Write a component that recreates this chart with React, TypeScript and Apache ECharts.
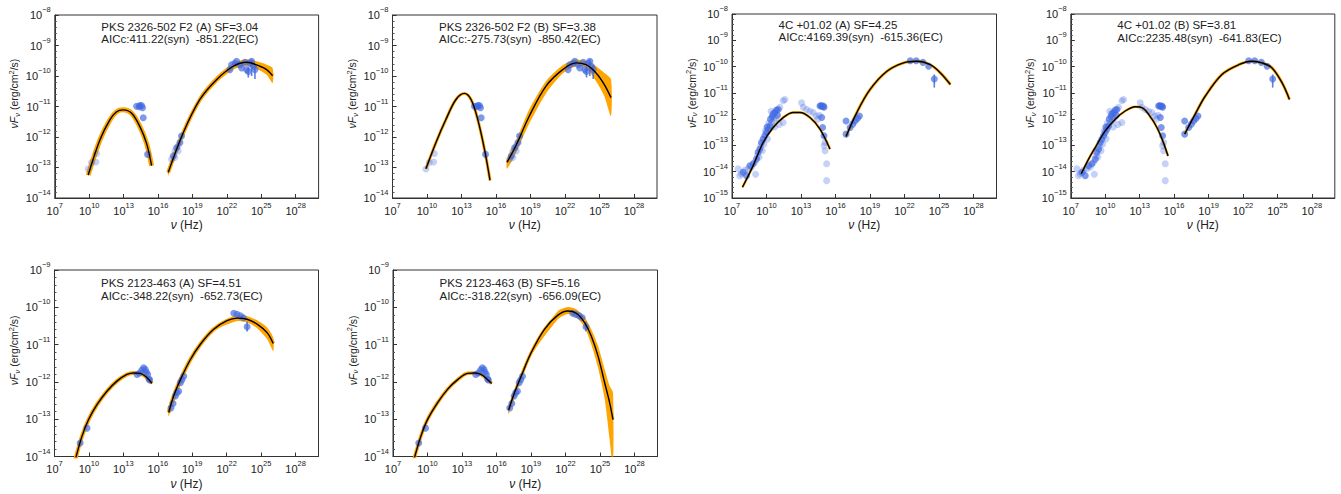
import React, { useEffect, useRef } from 'react';
import * as echarts from 'echarts';

// ---------- text ----------
const panelTitles = [
  'PKS 2326-502 F2 (A) SF=3.04',
  'PKS 2326-502 F2 (B) SF=3.38',
  '4C +01.02 (A) SF=4.25',
  '4C +01.02 (B) SF=3.81',
  'PKS 2123-463 (A) SF=4.51',
  'PKS 2123-463 (B) SF=5.16',
];
const panelAicc = [
  'AICc:411.22(syn)  -851.22(EC)',
  'AICc:-275.73(syn)  -850.42(EC)',
  'AICc:4169.39(syn)  -615.36(EC)',
  'AICc:2235.48(syn)  -641.83(EC)',
  'AICc:-348.22(syn)  -652.73(EC)',
  'AICc:-318.22(syn)  -656.09(EC)',
];
const yAxisTitle = '{i|\u03bdF}{s|\u03bd}{a| (erg/cm}{p|2}{a|/s)}';
const xAxisTitle = '{i|\u03bd} (Hz)';

// ---------- axes (log10 exponents) ----------
const xLogMin = 7;
const xLogMax = 30;
const xLogStep = 3;
const yLogRanges = [
  [-14, -8],
  [-14, -8],
  [-15, -8],
  [-15, -8],
  [-14, -9],
  [-14, -9],
];

// ---------- observed data: [log10 nu, log10 nuFnu] ----------
const pks2326Dark = [
  [14.13, -10.99], [14.36, -11.01], [14.42, -10.97], [14.56, -10.97], [14.65, -11.04], [14.71, -11.37], [15.09, -12.57],
  [17.33, -12.62], [17.62, -12.35], [17.91, -12.18], [18.05, -11.97],
  [22.27, -9.79], [22.41, -9.63], [22.70, -9.58], [22.85, -9.52], [23.14, -9.63], [23.29, -9.74], [23.58, -9.55],
  [23.72, -9.79], [23.87, -9.85], [24.01, -9.58], [24.16, -9.52], [24.30, -9.68], [24.45, -9.79],
];
const pks2326Faint = [
  [9.91, -13.05], [10.20, -12.84], [10.58, -12.82], [10.64, -12.54],
  [17.18, -12.73], [17.47, -12.46], [17.47, -12.67], [17.76, -12.29], [17.76, -12.46],
];
const pks2326Err = [
  [23.87, -10.05, -9.70], [24.16, -10.0, -9.45], [24.45, -10.1, -9.65],
];

const c4Dark = [
  [7.97, -14.02], [8.26, -14.15], [8.55, -13.77], [8.84, -13.70], [9.13, -13.52], [9.27, -13.26], [9.42, -13.14],
  [9.56, -12.89], [9.71, -12.76], [9.85, -12.63], [10.0, -12.51], [10.05, -12.30], [10.15, -12.38], [10.29, -12.26],
  [10.35, -12.0], [10.50, -11.90], [10.58, -11.80], [10.73, -11.75], [10.87, -11.65], [10.95, -11.85], [11.02, -11.63],
  [14.65, -11.50], [14.75, -11.48], [14.85, -11.52], [14.95, -11.50], [15.0, -11.55], [14.80, -11.94], [14.88, -12.32], [15.0, -12.63],
  [16.92, -12.07], [16.92, -12.57], [17.27, -12.32], [17.50, -12.19], [17.70, -12.07], [17.91, -11.97], [18.08, -11.88],
  [22.50, -9.78], [23.02, -9.78], [23.60, -9.84], [24.10, -9.99], [24.59, -10.47],
];
const c4Faint = [
  [7.53, -13.89], [7.67, -14.15], [7.82, -14.08], [8.11, -13.95], [8.40, -13.89], [8.69, -13.83], [8.98, -13.64],
  [9.05, -14.10], [9.20, -13.39], [9.35, -13.45], [9.50, -13.01], [9.63, -13.20], [9.78, -12.95], [9.90, -12.45],
  [10.08, -12.75], [10.20, -12.15], [10.40, -11.70], [10.44, -12.13], [10.65, -12.05], [10.70, -12.30], [10.80, -11.95],
  [11.10, -12.20], [11.16, -11.55], [11.45, -12.13], [11.45, -11.30], [11.60, -11.25],
  [13.05, -11.38], [13.20, -11.55], [13.49, -11.63], [13.78, -11.70], [14.07, -11.75], [14.30, -11.88], [14.45, -12.0], [14.60, -11.85],
  [15.09, -12.89], [15.0, -13.01], [15.09, -13.20], [15.23, -13.70], [15.23, -14.34],
];
const c4Err = [[24.59, -10.80, -10.30]];

const pks2123Dark = [
  [9.24, -13.64], [9.83, -13.24],
  [14.19, -11.80], [14.42, -11.76], [14.62, -11.68], [14.77, -11.62], [14.91, -11.67], [15.0, -11.74], [15.12, -11.80], [15.23, -11.92], [15.29, -11.95],
  [17.15, -12.70], [17.33, -12.58], [17.53, -12.38], [17.67, -12.29], [17.82, -12.25], [17.97, -12.02], [18.11, -11.94], [18.26, -11.85],
  [22.62, -10.16], [22.90, -10.19], [23.20, -10.23], [23.45, -10.28], [23.78, -10.52],
];
const pks2123Faint = [];
const pks2123Err = [[23.78, -10.65, -10.38]];

// ---------- model curves: [log10 nu, log10 nuFnu] ----------
const syncP1 = [[9.91, -13.25], [10.93, -12.10], [11.80, -11.44], [12.39, -11.17], [12.96, -11.11], [13.70, -11.22], [14.42, -11.66], [15.0, -12.21], [15.44, -12.94]];
const ecP1 = [[16.89, -13.16], [18.20, -11.86], [19.65, -10.77], [21.10, -10.12], [22.56, -9.68], [23.72, -9.55], [24.88, -9.68], [25.47, -9.79], [25.99, -9.99]];
const ecBandP1 = [[16.89, -13.27, -13.05], [18.20, -11.97, -11.80], [19.65, -10.88, -10.66], [21.10, -10.23, -10.01], [22.56, -9.79, -9.58], [23.72, -9.66, -9.45], [24.88, -9.82, -9.55], [25.47, -9.96, -9.63], [25.99, -10.23, -9.74]];

const syncP2 = [[9.91, -13.04], [10.78, -12.18], [11.65, -11.42], [12.52, -10.77], [13.25, -10.57], [13.83, -10.77], [14.41, -11.42], [14.99, -12.39], [15.48, -13.42]];
const ecP2 = [[16.96, -12.83], [17.74, -12.28], [18.90, -11.31], [20.35, -10.33], [21.80, -9.79], [22.96, -9.57], [23.83, -9.63], [24.70, -9.90], [25.42, -10.28], [26.0, -10.71]];
const ecBandP2 = [[16.96, -13.04, -12.70], [17.74, -12.52, -12.12], [18.90, -11.55, -11.09], [20.35, -10.57, -10.17], [21.80, -9.92, -9.65], [22.96, -9.68, -9.46], [23.83, -9.74, -9.52], [24.70, -10.17, -9.68], [25.42, -10.66, -9.90], [26.0, -11.31, -10.11]];

const syncP3 = [[7.91, -14.59], [8.84, -13.77], [9.71, -12.89], [10.58, -12.32], [11.45, -11.94], [12.33, -11.75], [12.91, -11.75], [13.78, -11.94], [14.65, -12.38], [15.52, -13.14]];
const ecP3 = [[16.92, -12.66], [17.85, -11.75], [19.01, -10.87], [20.47, -10.18], [21.92, -9.86], [23.08, -9.80], [24.24, -9.93], [25.12, -10.24], [25.99, -10.68]];

const syncP4 = [[7.91, -14.08], [8.55, -13.52], [9.13, -13.08], [10.0, -12.45], [10.87, -12.0], [11.74, -11.69], [12.62, -11.53], [13.2, -11.56], [14.07, -12.0], [14.65, -12.45], [15.09, -12.92], [15.47, -13.40]];
const ecP4 = [[16.92, -12.57], [17.85, -11.80], [18.72, -11.12], [20.17, -10.30], [21.63, -9.93], [22.79, -9.80], [23.66, -9.86], [24.53, -10.05], [25.41, -10.62], [26.05, -11.25]];

const syncP5 = [[8.81, -14.09], [9.39, -13.46], [9.97, -13.01], [10.70, -12.61], [11.57, -12.25], [12.44, -11.98], [13.31, -11.80], [13.90, -11.76], [14.48, -11.77], [15.06, -11.89], [15.49, -12.04]];
const ecP5 = [[16.95, -12.82], [17.38, -12.38], [17.97, -11.94], [18.84, -11.40], [19.71, -10.99], [20.87, -10.59], [22.03, -10.36], [22.91, -10.29], [23.78, -10.32], [24.65, -10.45], [25.52, -10.68], [26.05, -10.97]];
const ecBandP5 = [[16.95, -12.92, -12.74], [18.84, -11.46, -11.34], [20.87, -10.65, -10.53], [22.91, -10.37, -10.22], [23.78, -10.41, -10.24], [24.65, -10.56, -10.35], [25.52, -10.85, -10.54], [26.05, -11.17, -10.81]];

const syncP6 = [[8.85, -14.05], [9.42, -13.46], [10.0, -13.01], [10.87, -12.56], [11.74, -12.20], [12.62, -11.94], [13.49, -11.77], [14.07, -11.76], [14.65, -11.80], [15.23, -11.94], [15.58, -12.04]];
const ecP6 = [[17.06, -12.75], [17.56, -12.29], [18.14, -11.85], [19.01, -11.22], [20.17, -10.59], [21.34, -10.21], [22.21, -10.10], [22.94, -10.16], [23.66, -10.41], [24.24, -10.77], [24.83, -11.31], [25.41, -12.03], [25.84, -12.56], [26.13, -13.01]];
const ecBandP6 = [[17.06, -12.86, -12.66], [19.01, -11.31, -11.13], [21.34, -10.32, -10.10], [22.21, -10.18, -9.99], [22.94, -10.27, -10.05], [23.66, -10.54, -10.27], [24.24, -10.99, -10.59], [24.83, -11.62, -11.04], [25.41, -12.47, -11.67], [25.84, -13.55, -12.11], [26.13, -14.3, -12.29]];

// ---------- styling / layout ----------
const FONT = '"Liberation Sans", Arial, sans-serif';
const INK = '#222';
const ORANGE = '#FFA500';
const BLUE_DARK = 'rgba(65,105,225,0.85)';
const BLUE_FAINT = 'rgba(65,105,225,0.38)';

const panels = [
  { box: [54.8, 15, 263.8, 183], titleDy: 11.5, sync: syncP1, ec: ecP1, ecBand: ecBandP1, syncW: 5, ecW: 4, dark: pks2326Dark, faint: pks2326Faint, err: pks2326Err },
  { box: [392.5, 15, 264.5, 183], titleDy: 11.5, sync: syncP2, ec: ecP2, ecBand: ecBandP2, syncW: 3, ecW: 3, dark: pks2326Dark, faint: pks2326Faint, err: pks2326Err },
  { box: [732, 14, 264.5, 184], titleDy: 10.5, sync: syncP3, ec: ecP3, ecBand: null, syncW: 2.5, ecW: 3, dark: c4Dark, faint: c4Faint, err: c4Err },
  { box: [1070.8, 14, 264, 184], titleDy: 11, sync: syncP4, ec: ecP4, ecBand: null, syncW: 2.5, ecW: 3, dark: c4Dark, faint: c4Faint, err: c4Err },
  { box: [54.5, 270, 264, 186.5], titleDy: 13.3, sync: syncP5, ec: ecP5, ecBand: ecBandP5, syncW: 4, ecW: 4, dark: pks2123Dark, faint: pks2123Faint, err: pks2123Err },
  { box: [393, 270, 264.5, 186.5], titleDy: 13.3, sync: syncP6, ec: ecP6, ecBand: ecBandP6, syncW: 3.5, ecW: 3, dark: pks2123Dark, faint: pks2123Faint, err: pks2123Err },
];

const tickRich = {
  b: { fontSize: 11, fontFamily: FONT, color: INK, lineHeight: 19 },
  e: { fontSize: 7.5, fontFamily: FONT, color: INK, lineHeight: 8, verticalAlign: 'top' },
};

const yTitleRich = {
  i: { fontSize: 10.5, fontFamily: FONT, fill: INK, fontStyle: 'italic', lineHeight: 14 },
  a: { fontSize: 10.5, fontFamily: FONT, fill: INK, lineHeight: 14 },
  s: { fontSize: 7.5, fontFamily: FONT, fill: INK, fontStyle: 'italic', lineHeight: 7, verticalAlign: 'bottom' },
  p: { fontSize: 7.5, fontFamily: FONT, fill: INK, lineHeight: 7, verticalAlign: 'top' },
};

function expLabel(v: number) {
  const r = Math.round(v);
  const s = r < 0 ? '\u2212' + String(-r) : String(r);
  return `{b|10}{e|${s}}`;
}

function buildOption() {
  const grid: any[] = [];
  const xAxis: any[] = [];
  const yAxis: any[] = [];
  const series: any[] = [];
  const graphic: any[] = [];

  panels.forEach((p, i) => {
    const [left, top, width, height] = p.box;
    grid.push({ left, top, width, height, show: true, borderColor: '#333', borderWidth: 1, backgroundColor: 'transparent' });
    xAxis.push({
      gridIndex: i, type: 'value', min: xLogMin, max: xLogMax, interval: xLogStep,
      axisLine: { onZero: false, lineStyle: { color: '#333', width: 1 } },
      axisTick: { inside: true, length: 4, lineStyle: { color: '#333' } },
      splitLine: { show: false },
      axisLabel: {
        margin: 3, showMaxLabel: false, rich: tickRich, color: INK, fontFamily: FONT,
        formatter: (v: number) => (Math.abs(v - xLogMax) < 1e-6 ? '' : expLabel(v)),
      },
      name: xAxisTitle, nameLocation: 'middle', nameGap: 21,
      nameTextStyle: { fontSize: 12, fontFamily: FONT, color: INK, rich: { i: { fontSize: 12, fontFamily: FONT, color: INK, fontStyle: 'italic' } } },
    });
    const [yMin, yMax] = yLogRanges[i];
    yAxis.push({
      gridIndex: i, type: 'value', min: yMin, max: yMax, interval: 1,
      axisLine: { onZero: false, lineStyle: { color: '#333', width: 1 } },
      axisTick: { inside: true, length: 4, lineStyle: { color: '#333' } },
      minorTick: { show: true, splitNumber: 5, length: 2, lineStyle: { color: '#555' } },
      splitLine: { show: false },
      axisLabel: { margin: 4, rich: tickRich, color: INK, fontFamily: FONT, formatter: (v: number) => expLabel(v) },
    });

    const band = (arr: number[][]) => ({
      type: 'custom', xAxisIndex: i, yAxisIndex: i, silent: true, z: 1, clip: true,
      data: arr, encode: { x: 0, y: [1, 2] },
      renderItem: (params: any, api: any) => {
        if (params.dataIndex !== 0) return null;
        const upper = arr.map((d) => api.coord([d[0], d[2]]));
        const lower = arr.map((d) => api.coord([d[0], d[1]])).reverse();
        return { type: 'polygon', shape: { points: upper.concat(lower), smooth: 0.25 }, style: { fill: ORANGE } };
      },
    });
    if (p.ecBand) series.push(band(p.ecBand));

    const orangeLine = (data: number[][], w: number) => ({
      type: 'line', xAxisIndex: i, yAxisIndex: i, data, smooth: 0.35, showSymbol: false, symbol: 'none', silent: true, z: 2,
      lineStyle: { color: ORANGE, width: w, cap: 'butt' },
    });
    series.push(orangeLine(p.sync, p.syncW));
    series.push(orangeLine(p.ec, p.ecW));

    series.push({
      type: 'scatter', xAxisIndex: i, yAxisIndex: i, data: p.faint, symbol: 'circle', symbolSize: 7, silent: true, z: 3,
      itemStyle: { color: BLUE_FAINT },
    });
    series.push({
      type: 'scatter', xAxisIndex: i, yAxisIndex: i, data: p.dark, symbol: 'circle', symbolSize: 7, silent: true, z: 3,
      itemStyle: { color: BLUE_DARK },
    });
    series.push({
      type: 'custom', xAxisIndex: i, yAxisIndex: i, silent: true, z: 3, clip: true,
      data: p.err, encode: { x: 0, y: [1, 2] },
      renderItem: (params: any, api: any) => {
        const a = api.coord([api.value(0), api.value(1)]);
        const b = api.coord([api.value(0), api.value(2)]);
        return { type: 'line', shape: { x1: a[0], y1: a[1], x2: b[0], y2: b[1] }, style: { stroke: BLUE_DARK, lineWidth: 1.6 } };
      },
    });

    const blackLine = (data: number[][]) => ({
      type: 'line', xAxisIndex: i, yAxisIndex: i, data, smooth: 0.35, showSymbol: false, symbol: 'none', silent: true, z: 4,
      lineStyle: { color: '#000', width: 1.4 },
    });
    series.push(blackLine(p.sync));
    series.push(blackLine(p.ec));

    graphic.push({
      type: 'text', x: left + 46.5, y: top + p.titleDy, silent: true,
      style: { text: panelTitles[i], fontSize: 11.5, fontFamily: FONT, fill: INK, verticalAlign: 'middle' },
    });
    graphic.push({
      type: 'text', x: left + 46.5, y: top + p.titleDy + 12.7, silent: true,
      style: { text: panelAicc[i], fontSize: 11.5, fontFamily: FONT, fill: INK, verticalAlign: 'middle' },
    });
    graphic.push({
      type: 'text', x: left - 40.5, y: top + height / 2 - 13, rotation: Math.PI / 2, silent: true,
      style: { text: yAxisTitle, rich: yTitleRich, fontSize: 10.5, fontFamily: FONT, fill: INK, align: 'center', verticalAlign: 'middle' },
    });
  });

  return { animation: false, backgroundColor: '#fff', grid, xAxis, yAxis, series, graphic };
}

export default function App() {
  const ref = useRef<HTMLDivElement>(null);
  useEffect(() => {
    document.body.style.margin = '0';
    if (!ref.current) return;
    const chart = echarts.init(ref.current, undefined, { renderer: 'svg' });
    chart.setOption(buildOption() as any);
    return () => chart.dispose();
  }, []);
  return <div ref={ref} style={{ width: 1341, height: 494 }} />;
}
